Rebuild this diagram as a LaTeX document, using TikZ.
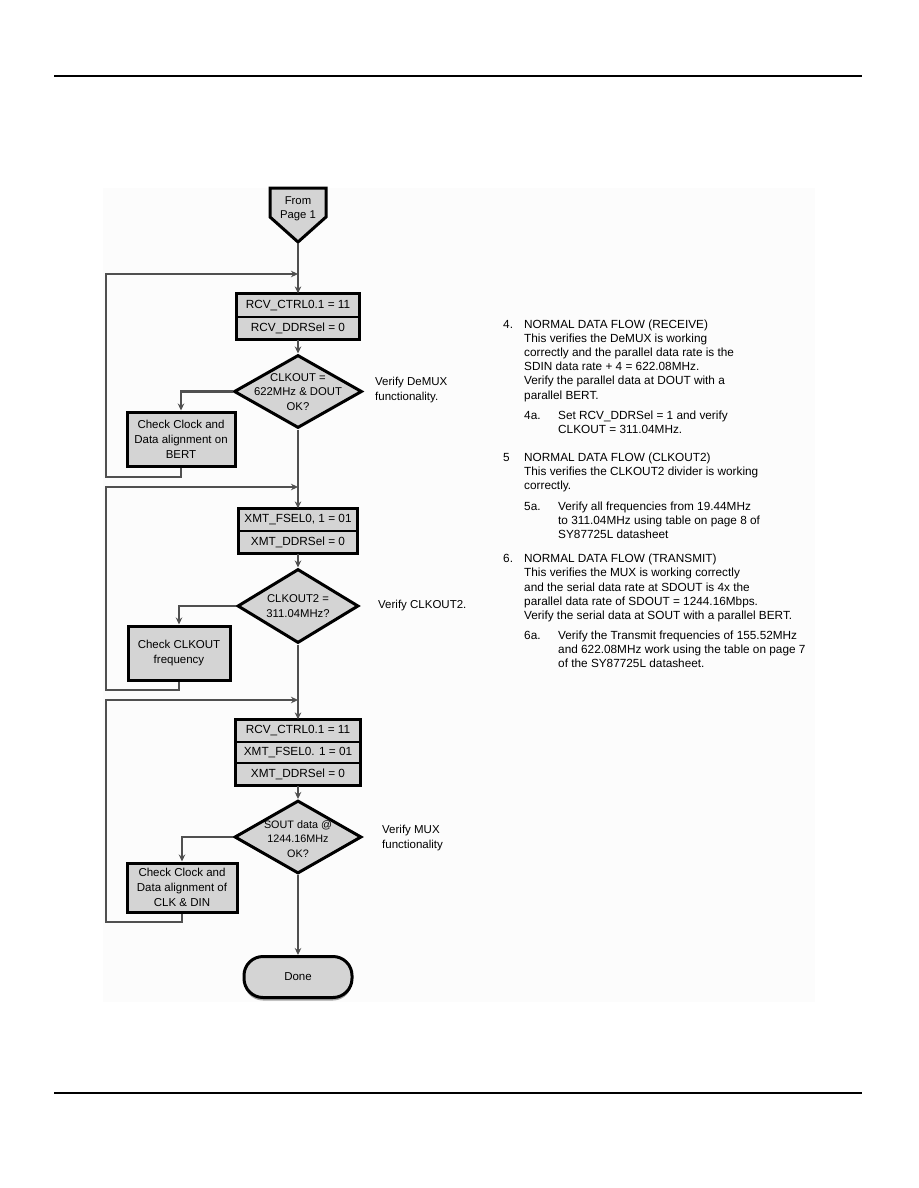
\documentclass[tikz,border=0pt]{standalone}
\usepackage{fontspec}
\setmainfont{Liberation Sans}
\usetikzlibrary{arrows.meta,shapes.geometric,shadows}
\definecolor{nfill}{RGB}{212,212,212}
\definecolor{lgray}{RGB}{80,80,80}
\begin{document}
\begin{tikzpicture}[x=1pt,y=-1pt,
  conn/.style={draw=lgray,line width=2.8pt},
  arr/.style={-{Stealth[length=7pt,width=6.5pt]}},
  row/.style={draw=black,line width=1.2pt,fill=nfill,inner sep=0pt,font=\fontsize{11.8}{13}\selectfont},
  frame/.style={draw=black,line width=3pt},
  dia/.style={diamond,draw=black,line width=3pt,fill=nfill,inner sep=0pt},
  ftxt/.style={align=center,font=\fontsize{11.3}{14.5}\selectfont,inner sep=0pt},
  chk/.style={draw=black,line width=3pt,fill=nfill,align=center,inner sep=0pt,font=\fontsize{11.5}{15}\selectfont},
  vtxt/.style={anchor=west,align=left,inner sep=0pt,font=\fontsize{11.5}{15}\selectfont},
  side/.style={anchor=base west,inner sep=0pt,font=\fontsize{11.8}{14}\selectfont}
]
\useasboundingbox (0,0) rectangle (918,1188);
\fill[white] (0,0) rectangle (918,1188);
\fill[black!1.2] (103,188) rectangle (815,1002);
% page rules
\draw[line width=2pt] (54,76) -- (862,76);
\draw[line width=1.6pt] (54,1093) -- (862,1093);

% start connector
\filldraw[fill=nfill,draw=black,line width=3pt,line join=miter]
  (270,188) -- (326,188) -- (326,217) -- (298,242) -- (270,217) -- cycle;
\node[ftxt] (start) at (298,209) {From\\Page 1};
\coordinate (startpt) at (298,243.5);

% block 1
\node[row,minimum width=121pt,minimum height=23pt] (b1a) at (298,305.5) {RCV\_CTRL0.1 = 11};
\node[row,minimum width=121pt,minimum height=22pt] (b1b) at (298,328) {RCV\_DDRSel = 0};
\draw[frame] (b1a.north west) rectangle (b1b.south east);
\node[dia,minimum width=128pt,minimum height=73pt] (d1) at (298,391.5) {};
\node[ftxt] (d1t) at (298,392) {CLKOUT =\\622MHz \& DOUT\\OK?};
\node[vtxt] (v1) at (375,390) {Verify DeMUX\\functionality.};
\node[chk,minimum width=108pt,minimum height=54pt] (c1) at (181,439) {Check Clock and\\Data alignment on\\BERT};

% block 2
\node[row,minimum width=117pt,minimum height=22pt] (b2a) at (298,520) {XMT\_FSEL0, 1 = 01};
\node[row,minimum width=117pt,minimum height=22pt] (b2b) at (298,542) {XMT\_DDRSel = 0};
\draw[frame] (b2a.north west) rectangle (b2b.south east);
\node[dia,minimum width=121pt,minimum height=74pt] (d2) at (298,606) {};
\node[ftxt] (d2t) at (298,606) {CLKOUT2 =\\311.04MHz?};
\node[vtxt] (v2) at (378,606) {Verify CLKOUT2.};
\node[chk,minimum width=102pt,minimum height=54pt] (c2) at (179,653) {Check CLKOUT\\frequency};

% block 3
\node[row,minimum width=123pt,minimum height=22pt] (b3a) at (298,731) {RCV\_CTRL0.1 = 11};
\node[row,minimum width=123pt,minimum height=21pt] (b3b) at (298,752.5) {XMT\_FSEL0. 1 = 01};
\node[row,minimum width=123pt,minimum height=22pt] (b3c) at (298,774) {XMT\_DDRSel = 0};
\draw[frame] (b3a.north west) rectangle (b3c.south east);
\node[dia,minimum width=127pt,minimum height=73pt] (d3) at (298,837) {};
\node[ftxt,font=\fontsize{10.8}{14.5}\selectfont] (d3t) at (298,839) {SOUT data @\\1244.16MHz\\OK?};
\node[vtxt] (v3) at (382,838) {Verify MUX\\functionality};
\node[chk,minimum width=110pt,minimum height=49pt] (c3) at (182,887.5) {Check Clock and\\Data alignment of\\CLK \& DIN};

% done
\node[draw=black,line width=3pt,fill=nfill,rounded corners=19pt,minimum width=108pt,minimum height=41pt,
  font=\fontsize{11.5}{13}\selectfont,drop shadow={shadow xshift=0pt,shadow yshift=-3pt,opacity=0.7}] (done) at (298,977) {Done};

% junctions and loop corners
\coordinate (j1) at (298,274);
\coordinate (j2) at (298,487);
\coordinate (j3) at (298,700);
\coordinate (l1) at (106,477);
\coordinate (l2) at (106,690);
\coordinate (l3) at (106,922);

% main flow
\draw[conn,arr] (startpt) -- (b1a.north);
\draw[conn,arr] (b1b.south) -- (d1.north);
\draw[conn,arr] (d1.south) -- (b2a.north);
\draw[conn,arr] (b2b.south) -- (d2.north);
\draw[conn,arr] (d2.south) -- (b3a.north);
\draw[conn,arr] (b3c.south) -- (d3.north);
\draw[conn,arr] (d3.south) -- (done.north);

% branches
\draw[conn,arr] (d1.west) -| (c1.north);
\draw[conn,arr] (d2.west) -| (c2.north);
\draw[conn,arr] (d3.west) -| (c3.north);

% loops back
\draw[conn,arr] (c1.south) |- (l1) |- (j1);
\draw[conn,arr] (c2.south) |- (l2) |- (j2);
\draw[conn,arr] (c3.south) |- (l3) |- (j3);

% right-hand text
\foreach \yy/\xx/\tt [count=\i] in {
328/503/{4.}, 328/524/{NORMAL DATA FLOW (RECEIVE)},
342/524/{This verifies the DeMUX is working},
356/524/{correctly and the parallel data rate is the},
370/524/{SDIN data rate + 4 = 622.08MHz.},
384/524/{Verify the parallel data at DOUT with a},
399/524/{parallel BERT.},
419/524/{4a.}, 419/558/{Set RCV\_DDRSel = 1 and verify},
433/558/{CLKOUT = 311.04MHz.},
461/503/{5}, 461/524/{NORMAL DATA FLOW (CLKOUT2)},
475/524/{This verifies the CLKOUT2 divider is working},
489/524/{correctly.},
510/524/{5a.}, 510/558/{Verify all frequencies from 19.44MHz},
524/558/{to 311.04MHz using table on page 8 of},
538/558/{SY87725L datasheet},
562/503/{6.}, 562/524/{NORMAL DATA FLOW (TRANSMIT)},
576/524/{This verifies the MUX is working correctly},
591/524/{and the serial data rate at SDOUT is 4x the},
605/524/{parallel data rate of SDOUT = 1244.16Mbps.},
619/524/{Verify the serial data at SOUT with a parallel BERT.},
639/524/{6a.}, 639/558/{Verify the Transmit frequencies of 155.52MHz},
653/558/{and 622.08MHz work using the table on page 7},
667/558/{of the SY87725L datasheet.}}
  \node[side] (r\i) at (\xx,\yy) {\tt};
\end{tikzpicture}
\end{document}
